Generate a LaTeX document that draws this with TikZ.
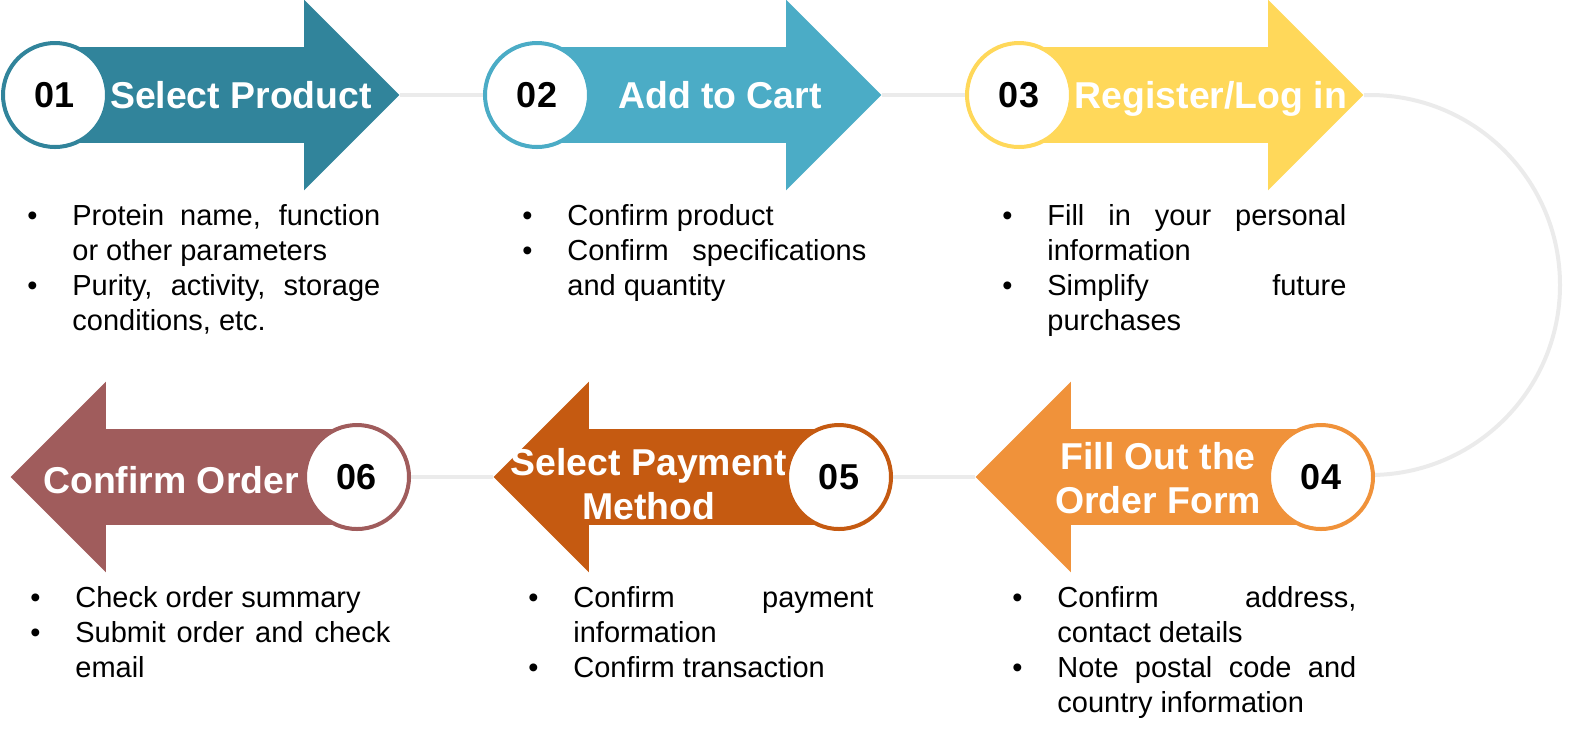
\documentclass[tikz,border=0pt]{standalone}
\usepackage{fontspec}
\setmainfont{Liberation Sans}
\usetikzlibrary{shapes.arrows, backgrounds}

\definecolor{stepA}{HTML}{31849B}
\definecolor{stepB}{HTML}{4BACC6}
\definecolor{stepC}{HTML}{FFD85A}
\definecolor{stepD}{HTML}{F0923A}
\definecolor{stepE}{HTML}{C55A11}
\definecolor{stepF}{HTML}{A05C5C}
\definecolor{linkgray}{HTML}{EBEBEB}

\tolerance=10000
\hbadness=10000
\hyphenpenalty=10000
\newcommand{\pnt}[1]{\noindent\hangindent=22.5pt\hangafter=1\makebox[22.5pt][l]{\textbullet}#1\par}

\begin{document}
\begin{tikzpicture}[x=0.5pt, y=-0.5pt,
    bigarrow/.style={single arrow, minimum height=172.5pt, minimum width=95pt, text height=23.75pt, text depth=23.75pt, single arrow head extend=23.75pt, inner sep=0pt, anchor=tip},
    num/.style={circle, draw, line width=2pt, fill=white, minimum size=52pt, inner sep=0pt, font=\fontsize{18}{20}\selectfont\bfseries},
    title/.style={text=white, font=\fontsize{18.7}{22}\selectfont\bfseries, align=center, inner sep=0pt},
    notes/.style={anchor=base west, inner sep=0pt, align=justify, font=\fontsize{14.5}{17.5}\selectfont},
    link/.style={draw=linkgray, line width=2pt}]

  \useasboundingbox (0,0) rectangle (1569,736);

  % top row
  \node[bigarrow, fill=stepA] (a1) at (400,95) {};
  \node[bigarrow, fill=stepB] (a2) at (882,95) {};
  \node[bigarrow, fill=stepC] (a3) at (1364,95) {};
  \node[num, draw=stepA] (c1) at (55,95) {01};
  \node[num, draw=stepB] (c2) at (537,95) {02};
  \node[num, draw=stepC] (c3) at (1019,95) {03};
  \node[title, anchor=base] (t1) at (241,108) {Select Product};
  \node[title, anchor=base] (t2) at (720,108) {Add to Cart};
  \node[title, anchor=base] (t3) at (1211,108) {Register/Log in};

  % bottom row
  \node[bigarrow, fill=stepD, shape border rotate=180] (a4) at (975,477) {};
  \node[bigarrow, fill=stepE, shape border rotate=180] (a5) at (493,477) {};
  \node[bigarrow, fill=stepF, shape border rotate=180] (a6) at (10,477) {};
  \node[title] (t4) at (1158,478) {Fill Out the\\Order Form};
  \node[title] (t5) at (649,484) {Select Payment\\Method};
  \node[title, anchor=base] (t6) at (171,493) {Confirm Order};
  \node[num, draw=stepD] (c4) at (1321,477) {04};
  \node[num, draw=stepE] (c5) at (839,477) {05};
  \node[num, draw=stepF] (c6) at (357,477) {06};

  % notes
  \node[notes, text width=176.5pt] (n1) at (27,225) {\pnt{Protein name, function\linebreak or other parameters}\pnt{Purity, activity, storage\linebreak conditions, etc.}};
  \node[notes, text width=172pt] (n2) at (522,225) {\pnt{Confirm product}\pnt{Confirm specifications\linebreak and quantity}};
  \node[notes, text width=172pt] (n3) at (1002,225) {\pnt{Fill in your personal\linebreak information}\pnt{Simplify future\linebreak purchases}};
  \node[notes, text width=172pt] (n4) at (1012,607) {\pnt{Confirm address,\linebreak contact details}\pnt{Note postal code and\linebreak country information}};
  \node[notes, text width=172.5pt] (n5) at (528,607) {\pnt{Confirm payment\linebreak information}\pnt{Confirm transaction}};
  \node[notes, text width=180pt] (n6) at (30,607) {\pnt{Check order summary}\pnt{Submit order and check\linebreak email}};

  \begin{scope}[on background layer]
    \draw[link] (a1.tip) -- (c2.west);
    \draw[link] (a2.tip) -- (c3.west);
    \draw[link] (a3.tip) -- ++(6,0) arc[start angle=90, end angle=-90, radius=95pt] -- (c4.east);
    \draw[link] (c5.east) -- (a4.tip);
    \draw[link] (c6.east) -- (a5.tip);
  \end{scope}
\end{tikzpicture}
\end{document}
